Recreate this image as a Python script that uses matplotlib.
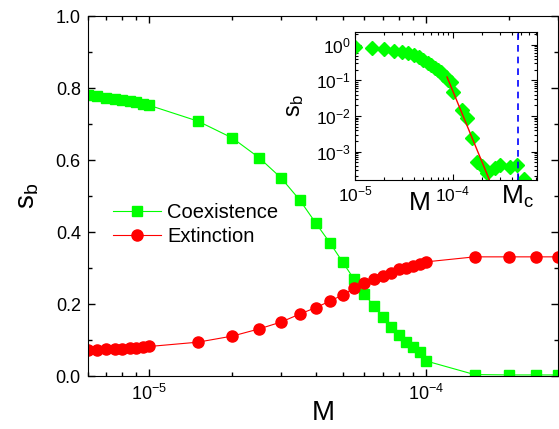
import matplotlib
matplotlib.use('Agg')
from matplotlib import pyplot as plt
from matplotlib.ticker import LogLocator, NullFormatter, MultipleLocator, FormatStrFormatter

plt.rcParams['font.family'] = ['Liberation Sans', 'DejaVu Sans']
plt.rcParams['mathtext.fontset'] = 'custom'
plt.rcParams['mathtext.rm'] = 'Liberation Sans'
plt.rcParams['mathtext.it'] = 'Liberation Sans:italic'
plt.rcParams['mathtext.default'] = 'regular'

# main panel data
M_main = [6e-6, 6.5e-6, 7e-6, 7.5e-6, 8e-6, 8.5e-6, 9e-6, 9.5e-6, 1e-5,
          1.5e-5, 2e-5, 2.5e-5, 3e-5, 3.5e-5, 4e-5, 4.5e-5, 5e-5, 5.5e-5,
          6e-5, 6.5e-5, 7e-5, 7.5e-5, 8e-5, 8.5e-5, 9e-5, 9.5e-5, 1e-4,
          1.5e-4, 2e-4, 2.5e-4, 3e-4]
coexistence = [0.780, 0.777, 0.773, 0.770, 0.768, 0.765, 0.760, 0.756, 0.752,
               0.708, 0.661, 0.606, 0.550, 0.489, 0.425, 0.370, 0.317, 0.269,
               0.227, 0.194, 0.164, 0.136, 0.114, 0.094, 0.080, 0.067, 0.042,
               0.004, 0.003, 0.003, 0.003]
extinction = [0.072, 0.073, 0.074, 0.075, 0.076, 0.077, 0.079, 0.080, 0.082,
              0.094, 0.111, 0.131, 0.150, 0.172, 0.190, 0.208, 0.225, 0.244,
              0.257, 0.270, 0.277, 0.287, 0.296, 0.300, 0.306, 0.310, 0.317,
              0.331, 0.331, 0.331, 0.331]

# inset data
M_inset = [1e-5, 1.5e-5, 2e-5, 2.5e-5, 3e-5, 3.5e-5, 4e-5, 4.5e-5, 5e-5,
           5.5e-5, 6e-5, 6.5e-5, 7e-5, 7.5e-5, 8e-5, 8.5e-5, 9e-5, 9.5e-5,
           1e-4, 1.25e-4, 1.4e-4, 1.55e-4, 1.75e-4, 2e-4, 2.2e-4, 2.7e-4,
           3e-4, 3.8e-4, 4.5e-4, 5.3e-4]
s_inset = [0.88, 0.82, 0.77, 0.68, 0.63, 0.60, 0.52, 0.45, 0.37,
           0.31, 0.27, 0.23, 0.20, 0.17, 0.145, 0.125, 0.105, 0.088,
           0.048, 0.015, 0.0088, 0.0024, 5e-4, 3.9e-4, 2.5e-4, 3.4e-4,
           4.2e-4, 3.6e-4, 4.2e-4, 1.7e-4]
fit_M = [8.7e-5, 2.4e-4]
fit_s = [0.125, 1.4e-4]
M_c = 4.6e-4

green = '#00ff00'
red = '#ff0000'

fig = plt.figure(figsize=(5.59, 4.29), dpi=100)
ax = fig.add_axes([0.157, 0.1235, 0.841, 0.8392])

ax.plot(M_main, coexistence, '-s', color=green, lw=0.8, ms=7.2, mec=green,
        label='Coexistence')
ax.plot(M_main, extinction, '-o', color=red, lw=0.8, ms=8, mec=red,
        label='Extinction')

ax.set_xscale('log')
ax.set_xlim(6e-6, 3e-4)
ax.set_ylim(0, 1.0)
ax.xaxis.set_minor_formatter(NullFormatter())
ax.yaxis.set_major_locator(MultipleLocator(0.2))
ax.yaxis.set_minor_locator(MultipleLocator(0.1))
ax.yaxis.set_major_formatter(FormatStrFormatter('%.1f'))
ax.tick_params(which='both', direction='in', top=True, right=True,
               labelsize=13, width=1)
ax.tick_params(which='major', length=5, pad=5)
ax.tick_params(which='minor', length=3)
ax.tick_params(axis='x', pad=6)

ax.set_xlabel('M', fontsize=20)
ax.xaxis.set_label_coords(0.5, -0.068)
ax.set_ylabel('s$_b$', fontsize=20)
ax.yaxis.set_label_coords(-0.1, 0.5)

ax.legend(loc='upper left', bbox_to_anchor=(0.053, 0.48), frameon=False,
          fontsize=14.5, handlelength=2.4, handletextpad=0.3, labelspacing=0.25,
          borderpad=0, borderaxespad=0)

# inset
ins = fig.add_axes([0.635, 0.5804, 0.3256, 0.345])
ins.plot(M_inset, s_inset, 'D', color=green, ms=7, mec=green)
ins.plot(fit_M, fit_s, '-', color=red, lw=1.0)
ins.axvline(M_c, color='#0000ff', ls='--', lw=1.2, dashes=(4, 3))

ins.set_xscale('log')
ins.set_yscale('log')
ins.set_xlim(1e-5, 7.2e-4)
ins.set_ylim(1.58e-4, 2.3)
ins.set_xticks([1e-5, 1e-4, M_c],
               labels=['$\\mathdefault{10^{-5}}$', '$\\mathdefault{10^{-4}}$', 'M$_c$'])
ins.xaxis.set_minor_locator(LogLocator(base=10, subs=range(2, 10), numticks=20))
ins.xaxis.set_minor_formatter(NullFormatter())
ins.yaxis.set_major_locator(LogLocator(base=10, numticks=20))
ins.yaxis.set_minor_locator(LogLocator(base=10, subs=range(2, 10), numticks=20))
ins.yaxis.set_minor_formatter(NullFormatter())
ins.tick_params(which='both', direction='in', top=True, right=True,
                labelsize=12.5, width=0.8)
ins.tick_params(which='major', length=4, pad=3)
ins.tick_params(which='minor', length=2)
ins.get_xticklabels()[2].set_fontsize(19)

ins.set_ylabel('s$_b$', fontsize=17)
ins.yaxis.set_label_coords(-0.27, 0.5)
ins.text(0.357, -0.155, 'M', transform=ins.transAxes, fontsize=19,
         ha='center', va='center')

fig.savefig('out.png', dpi=100)
